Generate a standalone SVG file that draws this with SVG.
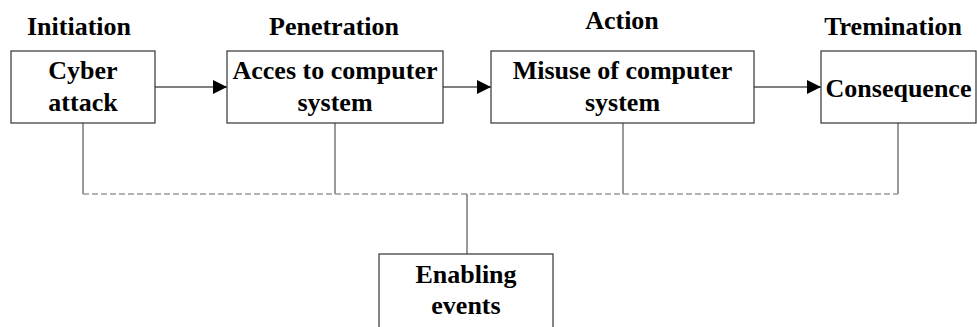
<svg xmlns="http://www.w3.org/2000/svg" width="977" height="327" viewBox="0 0 977 327">
<defs>
<style>
.box{fill:#fff;stroke:#333;stroke-width:1.2}
.t{font-family:"Liberation Serif","Times New Roman",serif;font-weight:bold;font-size:26px;fill:#000;text-anchor:middle}
.arr{stroke:#000;stroke-width:1.2;fill:none}
.v{stroke:#777;stroke-width:1.5;fill:none}
.d{stroke:#999;stroke-width:1.3;stroke-dasharray:6,3;fill:none}
</style>
<marker id="ah" markerWidth="14" markerHeight="14" refX="14" refY="7" orient="auto" markerUnits="userSpaceOnUse">
<path d="M0,0 L14,7 L0,14 Z" fill="#000"/>
</marker>
</defs>
<rect width="977" height="327" fill="#fff"/>
<g id="labels">
<text class="t" x="79" y="35">Initiation</text>
<text class="t" x="334" y="35">Penetration</text>
<text class="t" x="622" y="29">Action</text>
<text class="t" x="893" y="35">Tremination</text>
</g>
<g id="connectors">
<line class="arr" x1="155" y1="87" x2="227" y2="87" marker-end="url(#ah)"/>
<line class="arr" x1="443" y1="87" x2="491" y2="87" marker-end="url(#ah)"/>
<line class="arr" x1="754" y1="87" x2="821" y2="87" marker-end="url(#ah)"/>
<line class="v" x1="83" y1="123" x2="83" y2="194"/>
<line class="v" x1="335" y1="123" x2="335" y2="194"/>
<line class="v" x1="623" y1="123" x2="623" y2="194"/>
<line class="v" x1="898" y1="123" x2="898" y2="194"/>
<line class="d" x1="83" y1="194" x2="898" y2="194"/>
<line class="v" x1="467" y1="194" x2="467" y2="254"/>
</g>
<g id="cyber-attack">
<rect class="box" x="11" y="51" width="144" height="72"/>
<text class="t" x="83" y="79">Cyber</text>
<text class="t" x="83" y="111">attack</text>
</g>
<g id="access">
<rect class="box" x="227" y="51" width="216" height="72"/>
<text class="t" x="335" y="79">Acces to computer</text>
<text class="t" x="335" y="111">system</text>
</g>
<g id="misuse">
<rect class="box" x="491" y="51" width="263" height="72"/>
<text class="t" x="622.5" y="79">Misuse of computer</text>
<text class="t" x="622.5" y="111">system</text>
</g>
<g id="consequence">
<rect class="box" x="821" y="51" width="155" height="72"/>
<text class="t" x="898.5" y="97">Consequence</text>
</g>
<g id="enabling">
<rect class="box" x="379" y="254" width="174" height="80"/>
<text class="t" x="466" y="283">Enabling</text>
<text class="t" x="466" y="314">events</text>
</g>
</svg>
